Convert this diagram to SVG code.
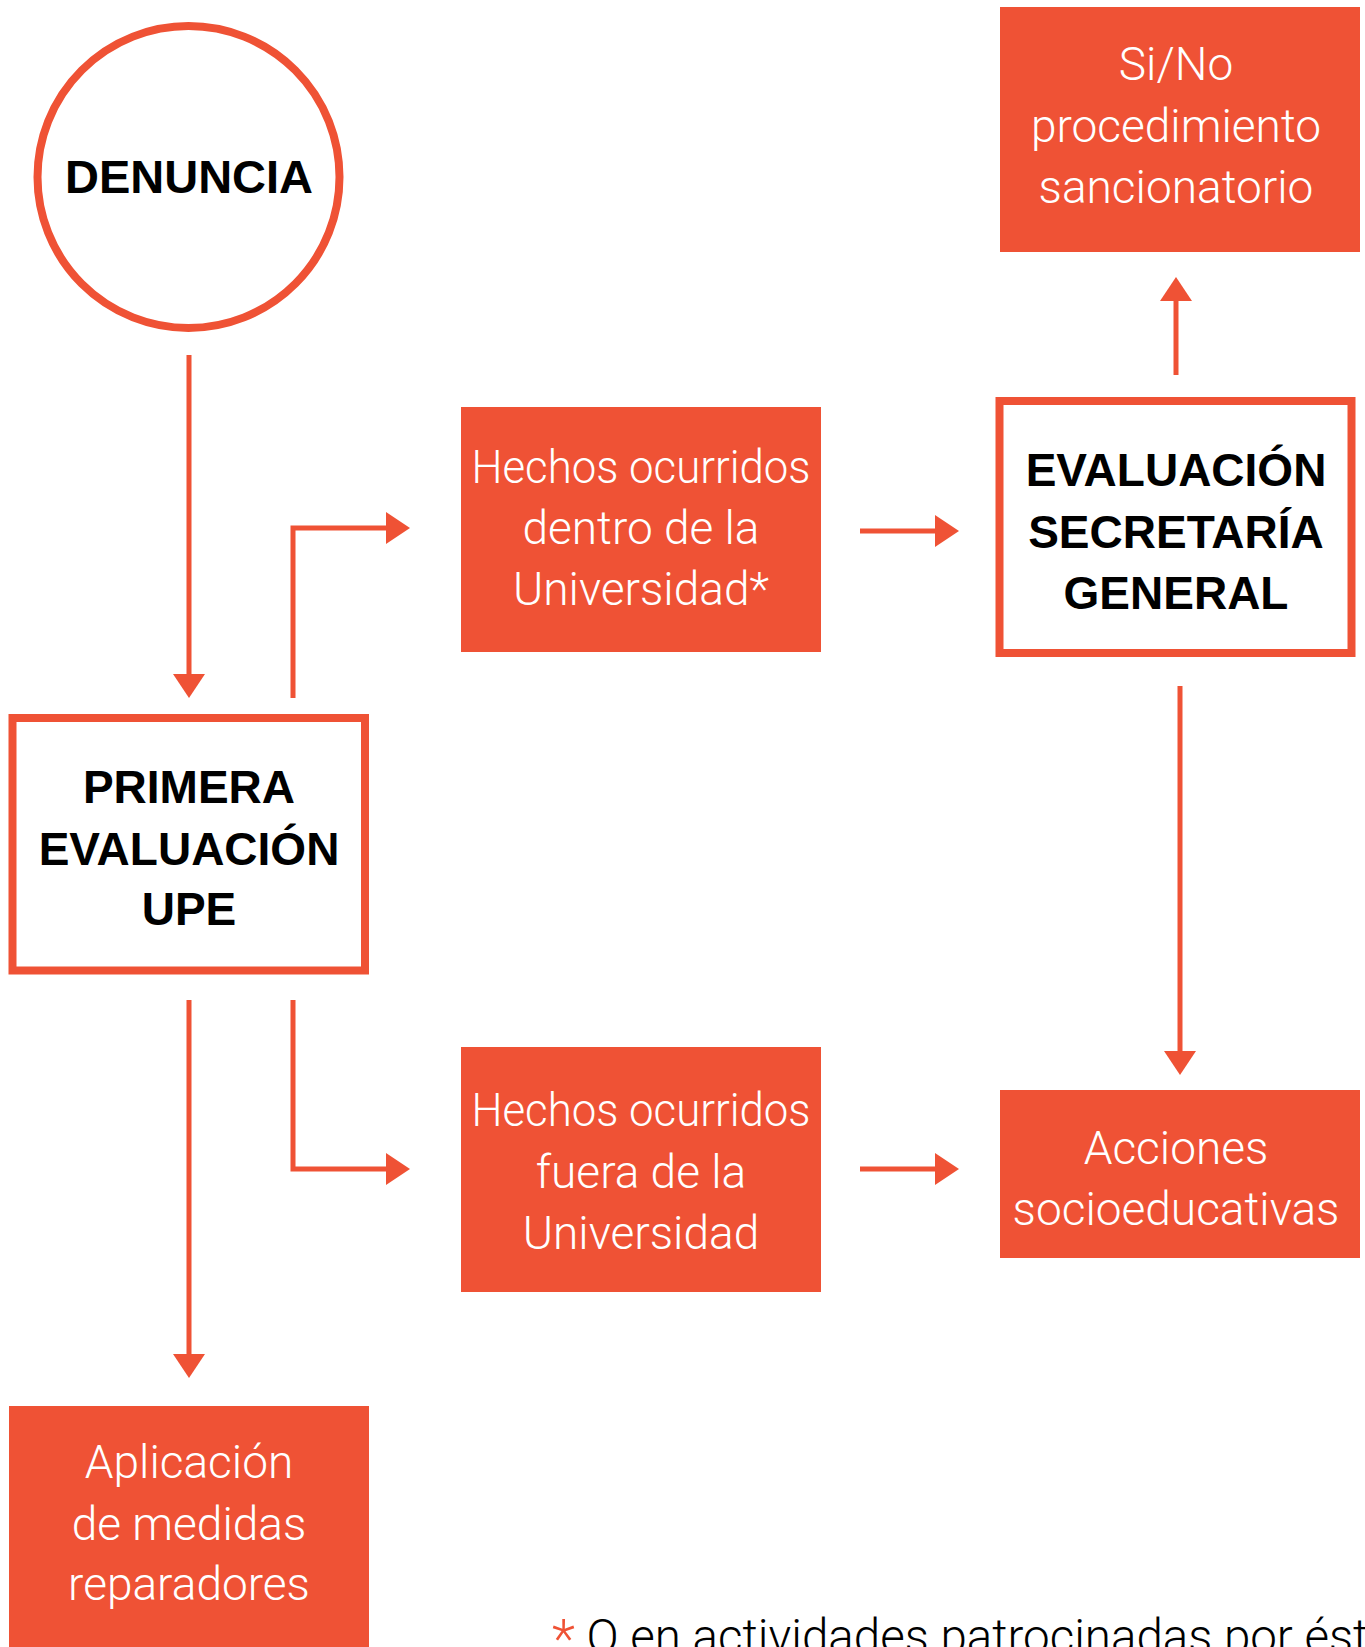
<svg xmlns="http://www.w3.org/2000/svg" width="1365" height="1647" viewBox="0 0 1365 1647">
<style>
  .bg { fill: #ffffff; }
  .fill { fill: #EF5235; }
  .outline { fill: #ffffff; stroke: #EF5235; stroke-width: 8; }
  .conn { fill: none; stroke: #EF5235; stroke-width: 5; stroke-linejoin: miter; }
  .bold { font-family: "Liberation Sans", Arial, sans-serif; font-weight: 700; font-size: 46px; fill: #000000; text-anchor: middle; }
  .light { font-family: Roboto, "Liberation Sans", sans-serif; font-weight: 300; font-size: 46px; fill: #ffffff; text-anchor: middle; }
  .note { font-family: Roboto, "Liberation Sans", sans-serif; font-weight: 300; font-size: 47.5px; fill: #000000; }
</style>
<defs>
  <marker id="arrow" markerUnits="userSpaceOnUse" markerWidth="24" markerHeight="32" viewBox="0 0 24 32" refX="0" refY="16" orient="auto">
    <path d="M0,0 L24,16 L0,32 Z" fill="#EF5235"/>
  </marker>
</defs>
<rect class="bg" x="0" y="0" width="1365" height="1647"/>

<g id="connectors">
  <line class="conn" x1="189" y1="355" x2="189" y2="674" marker-end="url(#arrow)"/>
  <polyline class="conn" points="293,698 293,528 386,528" marker-end="url(#arrow)"/>
  <line class="conn" x1="860" y1="531" x2="935" y2="531" marker-end="url(#arrow)"/>
  <line class="conn" x1="1176" y1="375" x2="1176" y2="301" marker-end="url(#arrow)"/>
  <line class="conn" x1="1180" y1="686" x2="1180" y2="1051" marker-end="url(#arrow)"/>
  <polyline class="conn" points="293,1000 293,1169 386,1169" marker-end="url(#arrow)"/>
  <line class="conn" x1="860" y1="1169" x2="935" y2="1169" marker-end="url(#arrow)"/>
  <line class="conn" x1="189" y1="1000" x2="189" y2="1354" marker-end="url(#arrow)"/>
</g>

<g id="denuncia">
  <circle class="outline" cx="188.5" cy="177" r="151"/>
  <text class="bold" x="189" y="193" style="font-size:47px">DENUNCIA</text>
</g>

<g id="primera-evaluacion">
  <rect class="outline" x="12.5" y="718" width="352.5" height="252.5"/>
  <text class="bold" x="189" y="803">PRIMERA</text>
  <text class="bold" x="189" y="865">EVALUACIÓN</text>
  <text class="bold" x="189" y="925">UPE</text>
</g>

<g id="hechos-dentro">
  <rect class="fill" x="461" y="407" width="360" height="245"/>
  <text class="light" x="641" y="483" textLength="339" lengthAdjust="spacingAndGlyphs">Hechos ocurridos</text>
  <text class="light" x="641" y="544">dentro de la</text>
  <text class="light" x="641" y="605">Universidad*</text>
</g>

<g id="hechos-fuera">
  <rect class="fill" x="461" y="1047" width="360" height="245"/>
  <text class="light" x="641" y="1126" textLength="339" lengthAdjust="spacingAndGlyphs">Hechos ocurridos</text>
  <text class="light" x="641" y="1188">fuera de la</text>
  <text class="light" x="641" y="1249">Universidad</text>
</g>

<g id="evaluacion-secretaria">
  <rect class="outline" x="999.5" y="401" width="352" height="252"/>
  <text class="bold" x="1176" y="486">EVALUACIÓN</text>
  <text class="bold" x="1176" y="548">SECRETARÍA</text>
  <text class="bold" x="1176" y="609">GENERAL</text>
</g>

<g id="procedimiento">
  <rect class="fill" x="1000" y="7" width="360" height="245"/>
  <text class="light" x="1176" y="80">Si/No</text>
  <text class="light" x="1176" y="142">procedimiento</text>
  <text class="light" x="1176" y="203">sancionatorio</text>
</g>

<g id="acciones">
  <rect class="fill" x="1000" y="1090" width="360" height="168"/>
  <text class="light" x="1176" y="1164">Acciones</text>
  <text class="light" x="1176" y="1225">socioeducativas</text>
</g>

<g id="aplicacion">
  <rect class="fill" x="9" y="1406" width="360" height="260"/>
  <text class="light" x="189" y="1478">Aplicación</text>
  <text class="light" x="189" y="1540">de medidas</text>
  <text class="light" x="189" y="1600">reparadores</text>
</g>

<g id="nota">
  <text class="note" x="552" y="1653"><tspan fill="#EF5235" style="font-size:54px" dy="4">*</tspan><tspan dy="-4"> O en actividades patrocinadas por ésta</tspan></text>
</g>
</svg>
